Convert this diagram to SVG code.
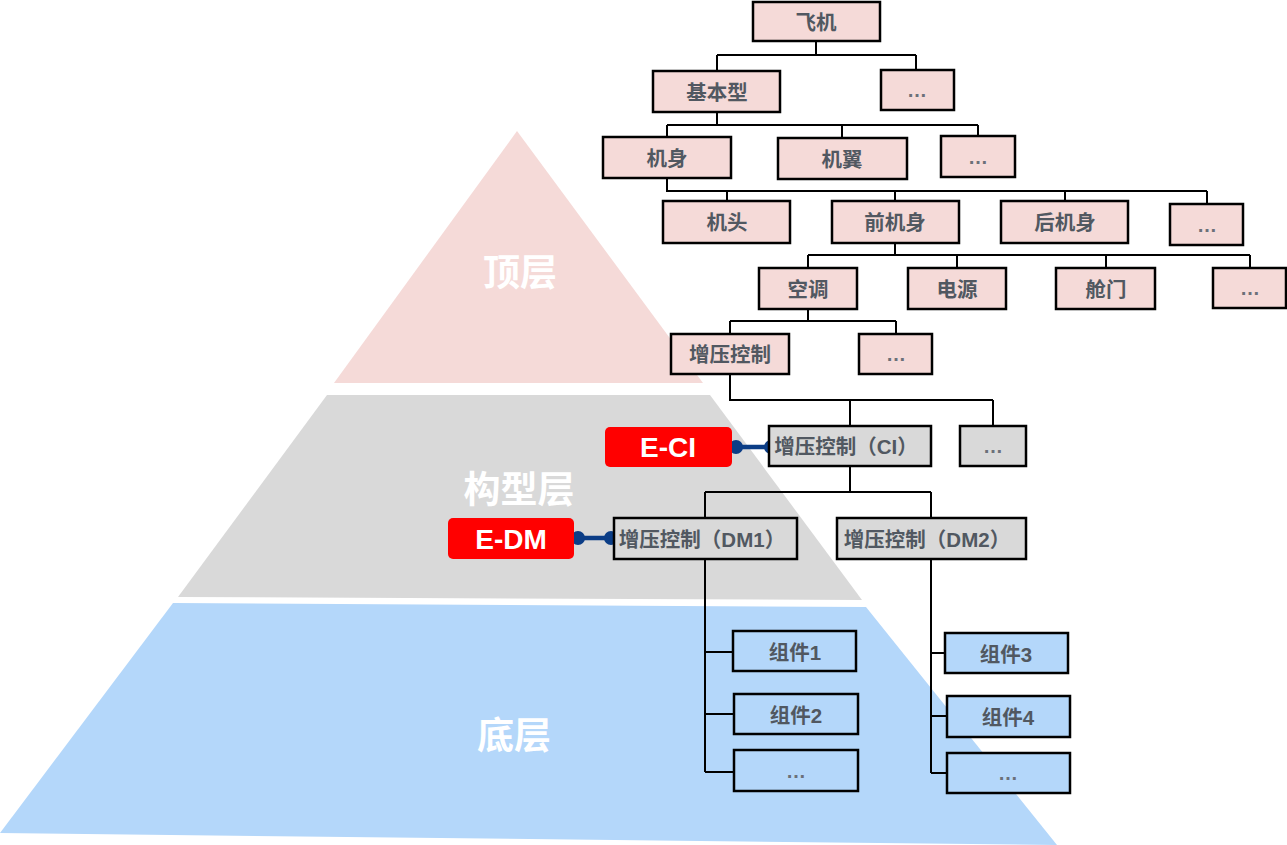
<svg xmlns="http://www.w3.org/2000/svg" width="1287" height="845" viewBox="0 0 1287 845">
<style>
.n{stroke:#000;stroke-width:2.5}
.p{fill:#f5dad8}
.g{fill:#d9d9d9}
.b{fill:#b4d7fa}
.t{font-family:"Liberation Sans","Noto Sans CJK SC",sans-serif;font-weight:bold;font-size:20.5px;fill:#515861;text-anchor:middle;dominant-baseline:central}
.e{font-family:"Liberation Sans","Noto Sans CJK SC",sans-serif;font-weight:bold;font-size:20px;fill:#6b7079;text-anchor:middle;dominant-baseline:central}
.L{font-family:"Noto Sans CJK SC","Liberation Sans",sans-serif;font-weight:bold;font-size:37px;fill:#fff;text-anchor:middle;dominant-baseline:central}
.r{fill:#f00}
.rt{font-family:"Liberation Sans","Noto Sans CJK SC",sans-serif;font-weight:bold;font-size:28px;fill:#fff;text-anchor:middle;dominant-baseline:central}
.c{fill:none;stroke:#000;stroke-width:2}
.k{stroke:#0b3d86;stroke-width:4.5}
.d{fill:#0b3d86}
</style>
<rect width="1287" height="845" fill="#fff"/>
<g id="pyramid">
<polygon points="517,131 334,383 703,383" fill="#f5dad8"/>
<polygon points="327,395 710,395 862,600 178,597" fill="#d9d9d9"/>
<polygon points="173,603 866,607 1057,845 0,833" fill="#b4d7fa"/>
<text class="L" x="520" y="270">顶层</text>
<text class="L" x="519" y="487">构型层</text>
<text class="L" x="514" y="733">底层</text>
</g>
<g id="connectors">
<path class="c" d="M816,41V55M717,55H916M717,55V71M916,55V70"/>
<path class="c" d="M717,112V125M667,125H978M667,125V137M842,125V138M978,125V136"/>
<path class="c" d="M667,178V191H1207M727,191V201M895,191V201M1065,191V201M1207,191V204"/>
<path class="c" d="M895,243V255M808,255H1250M808,255V268M957,255V268M1106,255V268M1250,255V268"/>
<path class="c" d="M808,309V321M730,321H896M730,321V334M896,321V334"/>
<path class="c" d="M730,374V400H993M850,400V426M993,400V426"/>
<path class="c" d="M850,466V492M705,492H931M705,492V518M931,492V518"/>
<path class="c" d="M705,559V772M705,652H733M705,714H734M705,772H734"/>
<path class="c" d="M931,559V773M931,653H945M931,716H947M931,773H947"/>
</g>
<g id="links">
<line class="k" x1="736" y1="447" x2="771" y2="447"/>
<circle class="d" cx="736" cy="447" r="7"/>
<circle class="d" cx="771" cy="447" r="7"/>
<line class="k" x1="578" y1="538" x2="611" y2="538"/>
<circle class="d" cx="578" cy="538" r="7"/>
<circle class="d" cx="611" cy="538" r="7"/>
</g>
<g id="n-feiji"><rect class="n p" x="753" y="2" width="127" height="39"/><text class="t" x="816" y="22">飞机</text></g>
<g id="n-jibenxing"><rect class="n p" x="653" y="71" width="127" height="41"/><text class="t" x="717" y="92">基本型</text></g>
<g id="n-e1"><rect class="n p" x="881" y="70" width="73" height="40"/><text class="e" x="917" y="90">…</text></g>
<g id="n-jishen"><rect class="n p" x="603" y="137" width="128" height="41"/><text class="t" x="667" y="158">机身</text></g>
<g id="n-jiyi"><rect class="n p" x="778" y="138" width="129" height="41"/><text class="t" x="842" y="159">机翼</text></g>
<g id="n-e2"><rect class="n p" x="941" y="136" width="74" height="41"/><text class="e" x="978" y="157">…</text></g>
<g id="n-jitou"><rect class="n p" x="663" y="201" width="127" height="42"/><text class="t" x="727" y="222">机头</text></g>
<g id="n-qianjishen"><rect class="n p" x="832" y="201" width="127" height="42"/><text class="t" x="895" y="222">前机身</text></g>
<g id="n-houjishen"><rect class="n p" x="1001" y="201" width="127" height="42"/><text class="t" x="1065" y="222">后机身</text></g>
<g id="n-e3"><rect class="n p" x="1170" y="204" width="73" height="41"/><text class="e" x="1207" y="225">…</text></g>
<g id="n-kongtiao"><rect class="n p" x="759" y="268" width="98" height="41"/><text class="t" x="808" y="289">空调</text></g>
<g id="n-dianyuan"><rect class="n p" x="908" y="268" width="98" height="41"/><text class="t" x="957" y="289">电源</text></g>
<g id="n-cangmen"><rect class="n p" x="1056" y="268" width="99" height="41"/><text class="t" x="1106" y="289">舱门</text></g>
<g id="n-e4"><rect class="n p" x="1213" y="268" width="73" height="40"/><text class="e" x="1250" y="288">…</text></g>
<g id="n-zengya"><rect class="n p" x="671" y="334" width="118" height="40"/><text class="t" x="730" y="354">增压控制</text></g>
<g id="n-e5"><rect class="n p" x="859" y="334" width="73" height="40"/><text class="e" x="896" y="354">…</text></g>
<g id="n-ci"><rect class="n g" x="769" y="426" width="162" height="40"/><text class="t" x="846" y="446">增压控制（CI）</text></g>
<g id="n-e6"><rect class="n g" x="960" y="426" width="66" height="40"/><text class="e" x="993" y="446">…</text></g>
<g id="n-eci"><rect class="r" x="605" y="427" width="127" height="40" rx="5"/><text class="rt" x="668" y="447">E-CI</text></g>
<g id="n-dm1"><rect class="n g" x="614" y="518" width="183" height="41"/><text class="t" x="702" y="539">增压控制（DM1）</text></g>
<g id="n-dm2"><rect class="n g" x="837" y="518" width="189" height="41"/><text class="t" x="927" y="539">增压控制（DM2）</text></g>
<g id="n-edm"><rect class="r" x="448" y="518" width="126" height="41" rx="5"/><text class="rt" x="511" y="539">E-DM</text></g>
<g id="n-zj1"><rect class="n b" x="733" y="631" width="123" height="40"/><text class="t" x="795" y="652">组件1</text></g>
<g id="n-zj2"><rect class="n b" x="734" y="694" width="124" height="40"/><text class="t" x="796" y="715">组件2</text></g>
<g id="n-e7"><rect class="n b" x="734" y="750" width="124" height="41"/><text class="e" x="796" y="771">…</text></g>
<g id="n-zj3"><rect class="n b" x="945" y="633" width="123" height="40"/><text class="t" x="1006" y="654">组件3</text></g>
<g id="n-zj4"><rect class="n b" x="947" y="696" width="123" height="41"/><text class="t" x="1008" y="717">组件4</text></g>
<g id="n-e8"><rect class="n b" x="947" y="753" width="123" height="40"/><text class="e" x="1008" y="773">…</text></g>
</svg>
